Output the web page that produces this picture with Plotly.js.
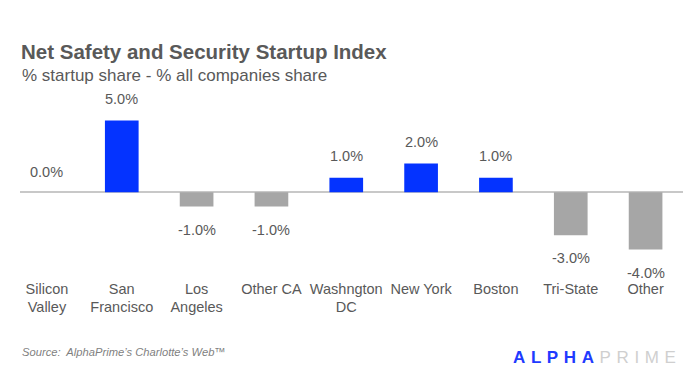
<!DOCTYPE html>
<html><head><meta charset="utf-8">
<script src="https://cdn.plot.ly/plotly-3.0.1.min.js"></script>
<style>
body{margin:0;background:#fff;}
#chart{width:690px;height:371px;}
g.annotation[data-index="1"] text{letter-spacing:5.6px;}
</style></head>
<body><div id="chart"></div>
<script>
const categories = ["Silicon<br>Valley","San<br>Francisco","Los<br>Angeles","Other CA","Washngton<br>DC","New York","Boston","Tri-State","Other"];
const values = [0.0, 5.0, -1.0, -1.0, 1.0, 2.0, 1.0, -3.0, -4.0];
const valueLabels = ["0.0%","5.0%","-1.0%","-1.0%","1.0%","2.0%","1.0%","-3.0%","-4.0%"];

const BLUE = "#0433ff", GRAY = "#a6a6a6", TXT = "#595959";
const FONT = "Liberation Sans, Arial, Helvetica, sans-serif";

const trace = {
  type: "bar",
  x: categories,
  y: values,
  marker: {color: values.map(v => v > 0 ? BLUE : GRAY)},
  hoverinfo: "skip"
};

const PL = 20, PW = 663, PT = 99, PH = 172; // plot box in px
const px = x => (x - PL) / PW;
const py = y => 1 - (y - PT) / PH;

const anns = [];
// subtitle
anns.push({xref:"paper", yref:"paper", xanchor:"left", yanchor:"middle",
  x:px(20), y:py(75), text:"% startup share - % all companies share",
  showarrow:false, font:{family:FONT, size:17, color:TXT}});
// logo
anns.push({xref:"paper", yref:"paper", xanchor:"center", yanchor:"middle",
  x:px(597), y:py(357),
  text:"<b><span style='color:#1f3bff'>ALPHA</span></b><span style='color:#cfcfcf'>PRIME</span>",
  showarrow:false, font:{family:FONT, size:17, color:"#cfcfcf"}});
// source
anns.push({xref:"paper", yref:"paper", xanchor:"left", yanchor:"middle",
  x:px(20), y:py(352), text:"<i>Source:  AlphaPrime’s Charlotte’s Web™</i>",
  showarrow:false, font:{family:FONT, size:11.2, color:"#7f7f7f"}});
// value labels
values.forEach((v,i) => {
  anns.push({x: categories[i], y: v, xref:"x", yref:"y",
    text: valueLabels[i], showarrow:false,
    yanchor: v >= 0 ? "bottom" : "top",
    yshift: v > 0 ? 12 : (v === 0 ? 10 : -13),
    font:{family:FONT, size:14.5, color:TXT}});
});

const layout = {
  width: 690, height: 371,
  margin: {l:PL, r:690-PL-PW, t:PT, b:371-PT-PH},
  paper_bgcolor: "#fff", plot_bgcolor: "#fff",
  showlegend: false,
  bargap: 0.55,
  title: {text:"<b>Net Safety and Security Startup Index</b>",
    xref:"container", yref:"container", x:21/690, xanchor:"left",
    y:1-52/371, yanchor:"middle",
    font:{family:FONT, size:20.5, color:TXT}},
  xaxis: {range:[-0.36, 8.5], showline:false, showgrid:false, ticks:"",
    ticklabelstandoff:7,
    tickfont:{family:FONT, size:14.5, color:TXT}, fixedrange:true},
  yaxis: {range:[-5.5, 6.5], visible:true, showgrid:false, showticklabels:false,
    showline:false, ticks:"", zeroline:true, zerolinecolor:"#c8c8c8", zerolinewidth:2,
    fixedrange:true},
  annotations: anns
};

Plotly.newPlot("chart", [trace], layout, {displayModeBar:false, staticPlot:true});
</script></body></html>
